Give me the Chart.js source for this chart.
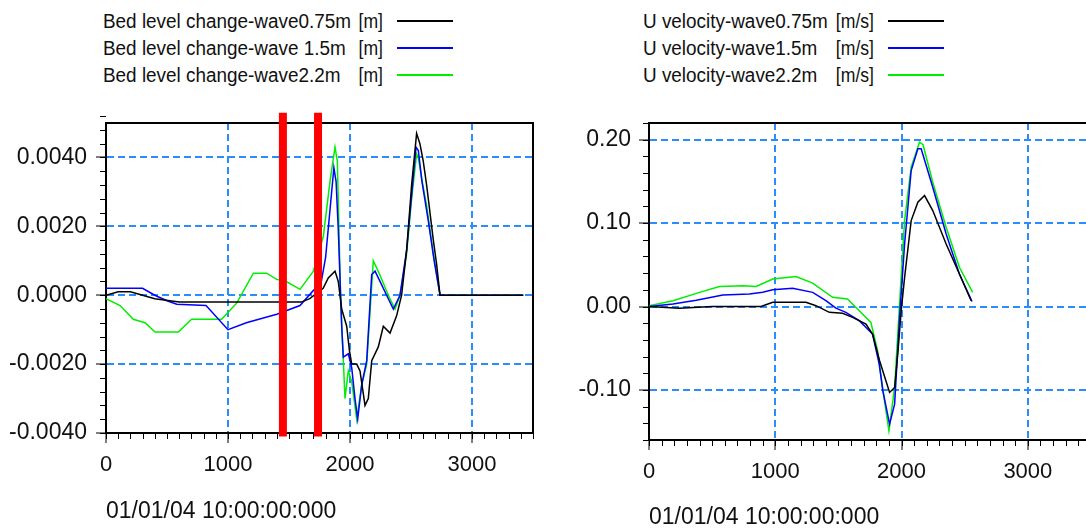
<!DOCTYPE html>
<html>
<head>
<meta charset="utf-8">
<script src="https://cdn.jsdelivr.net/npm/chart.js@4/dist/chart.umd.min.js"></script>
<style>
  html, body { margin: 0; padding: 0; background: #fff; overflow: hidden; }
  body { width: 1086px; height: 529px; position: relative; }
  .legend { position: absolute; font-family: 'Liberation Sans', Arial, sans-serif; font-size: 20px; color: #111; }
  .row { position: relative; height: 27px; white-space: pre; }
  .row span { position: absolute; top: 50%; }
  .row .name { left: 0; transform: translateY(-50%) scaleX(0.945); transform-origin: left center; }
  .row .unit { transform: translate(-100%, -50%) scaleX(0.88); transform-origin: right center; }
  .row .swatch { height: 2px; width: 56px; transform: translateY(-50%); }
  .wrap { position: absolute; top: 100px; }
</style>
</head>
<body>
<div id="legendLeft" class="legend" style="left:103px; top:7px;"></div>
<div id="legendRight" class="legend" style="left:643px; top:7px;"></div>
<div class="wrap" style="left:0; width:543px; height:429px;"><canvas id="bedChart" width="543" height="429"></canvas></div>
<div class="wrap" style="left:543px; width:552px; height:435px;"><canvas id="velChart" width="552" height="435"></canvas></div>
<script>
// legend texts
const bedNames = ['Bed level change-wave0.75m', 'Bed level change-wave 1.5m', 'Bed level change-wave2.2m'];
const bedUnit = '[m]';
const velNames = ['U velocity-wave0.75m', 'U velocity-wave1.5m', 'U velocity-wave2.2m'];
const velUnit = '[m/s]';
const seriesColors = ['#000000', '#0000ff', '#00ee00'];
const xTitle = '01/01/04 10:00:00:000';

// axis ticks
const xTicks = [0, 1000, 2000, 3000];
const xLabels = ['0', '1000', '2000', '3000'];
const bedYTicks = [-0.004, -0.002, 0, 0.002, 0.004];
const bedYLabels = ['-0.0040', '-0.0020', '0.0000', '0.0020', '0.0040'];
const velYTicks = [-0.1, 0, 0.1, 0.2];
const velYLabels = ['-0.10', '0.00', '0.10', '0.20'];

// bed level change, wave 0.75m
const bedX075 = [0, 100, 200, 300, 400, 600, 800, 1000, 1200, 1400, 1600, 1670, 1780, 1822, 1877, 1904, 1932, 1973, 1995, 2014, 2055, 2082, 2123, 2150, 2178, 2232, 2273, 2328, 2382, 2423, 2464, 2505, 2546, 2573, 2600, 2628, 2683, 2710, 2738, 3420];
const bedY075 = [0, 0.0001, 0.0001, 0, -0.0001, -0.0002, -0.0002, -0.0002, -0.0002, -0.0002, -0.0002, -0.0001, 0.0002, 0.0005, 0.0007, 0.0004, -0.0004, -0.0009, -0.0016, -0.002, -0.002, -0.0022, -0.0032, -0.003, -0.0019, -0.0015, -0.0009, -0.0011, -0.0006, 0, 0.0013, 0.0032, 0.0047, 0.0044, 0.0039, 0.0032, 0.0016, 0.0009, 0, 0];
// bed level change, wave 1.5m
const bedX15 = [0, 150, 300, 400, 500, 580, 820, 1000, 1150, 1400, 1590, 1700, 1760, 1800, 1868, 1886, 1904, 1932, 1945, 1986, 2014, 2041, 2063, 2096, 2137, 2178, 2205, 2246, 2300, 2355, 2410, 2464, 2505, 2541, 2560, 2590, 2640, 2690, 2738, 3420];
const bedY15 = [0.0002, 0.0002, 0.0002, 0, -0.00016, -0.00026, -0.0003, -0.001, -0.0008, -0.00055, -0.0003, 0.00014, 0.0003, 0.0011, 0.0037, 0.0033, 0.0019, -0.0009, -0.0018, -0.0017, -0.0021, -0.003, -0.0036, -0.0026, -0.0019, 0.0006, 0.0007, 0.0004, 0, -0.0004, 0, 0.0013, 0.0029, 0.0043, 0.0042, 0.0033, 0.0022, 0.001, 0, 0];
// bed level change, wave 2.2m
const bedX22 = [0, 115, 224, 320, 402, 593, 702, 948, 1071, 1208, 1317, 1399, 1481, 1590, 1700, 1781, 1836, 1877, 1896, 1923, 1959, 1986, 2014, 2055, 2096, 2137, 2191, 2246, 2314, 2369, 2410, 2464, 2505, 2546, 2560, 2587, 2628, 2683, 2738, 3420];
const bedY22 = [-0.0001, -0.0003, -0.0007, -0.0008, -0.00107, -0.00107, -0.0007, -0.0007, -0.00023, 0.00064, 0.00064, 0.00046, 0.00039, 0.00017, 0.0007, 0.0017, 0.0033, 0.0043, 0.0039, -0.0001, -0.003, -0.0022, -0.0025, -0.0036, -0.0026, -0.002, 0.001, 0.00058, 0, -0.0004, 0, 0.0012, 0.0028, 0.0041, 0.004, 0.0034, 0.0026, 0.0012, 0, 0];

// red marker bars on the bed level chart
const markerX = [1450, 1738];
const markerY = [-0.0041, 0.0053];

// U velocity, wave 0.75m
const velX075 = [0, 240, 500, 887, 980, 1243, 1322, 1428, 1533, 1612, 1718, 1770, 1826, 1905, 1945, 1972, 1997, 2024, 2076, 2129, 2182, 2247, 2353, 2458, 2551];
const velY075 = [0, -0.002, 0, 0, 0.005, 0.005, 0.001, -0.007, -0.008, -0.013, -0.021, -0.033, -0.065, -0.103, -0.097, -0.053, -0.005, 0.035, 0.103, 0.125, 0.133, 0.115, 0.075, 0.039, 0.007];
// U velocity, wave 1.5m
const velX15 = [0, 190, 374, 585, 795, 900, 980, 1137, 1296, 1401, 1480, 1559, 1665, 1770, 1823, 1852, 1905, 1945, 1984, 2024, 2076, 2129, 2155, 2247, 2353, 2458, 2558];
const velY15 = [0, 0.003, 0.0076, 0.0137, 0.015, 0.017, 0.02, 0.022, 0.017, 0.007, -0.002, -0.007, -0.017, -0.033, -0.069, -0.101, -0.141, -0.117, -0.013, 0.075, 0.163, 0.189, 0.189, 0.143, 0.087, 0.039, 0.006];
// U velocity, wave 2.2m
const velX22 = [0, 190, 400, 558, 743, 848, 980, 1164, 1296, 1454, 1572, 1665, 1757, 1810, 1849, 1900, 1945, 1984, 2024, 2076, 2142, 2170, 2247, 2353, 2458, 2563];
const velY22 = [0.001, 0.007, 0.017, 0.024, 0.025, 0.024, 0.033, 0.036, 0.028, 0.011, 0.009, -0.005, -0.019, -0.053, -0.097, -0.149, -0.097, 0.003, 0.103, 0.167, 0.197, 0.194, 0.149, 0.095, 0.047, 0.017];

const FONT = "'Liberation Sans', Arial, sans-serif";
const GRID_BLUE = '#2b8cff';

function toPoints(xs, ys) {
  return xs.map((x, i) => ({ x: x, y: ys[i] }));
}

// legend: name, unit right-aligned at unitRight, then a short line
function buildLegend(id, names, unit, unitRight) {
  const el = document.getElementById(id);
  names.forEach((name, i) => {
    const row = document.createElement('div');
    row.className = 'row';
    const n = document.createElement('span');
    n.className = 'name';
    n.textContent = name;
    const u = document.createElement('span');
    u.className = 'unit';
    u.style.left = unitRight + 'px';
    u.textContent = unit;
    const sw = document.createElement('span');
    sw.className = 'swatch';
    sw.style.left = (unitRight + 14) + 'px';
    sw.style.background = seriesColors[i];
    row.appendChild(n);
    row.appendChild(u);
    row.appendChild(sw);
    el.appendChild(row);
  });
}
buildLegend('legendLeft', bedNames, bedUnit, 280);
buildLegend('legendRight', velNames, velUnit, 231);

// box around the plot + the small minor ticks
const framePlugin = {
  id: 'frame',
  beforeDatasetsDraw(chart, args, opts) {
    const { ctx, chartArea: a } = chart;
    const x = chart.scales.x, y = chart.scales.y;
    ctx.save();
    ctx.strokeStyle = '#000';
    ctx.lineWidth = 1;
    const nx = Math.round((x.max - x.min) / opts.xMinor);
    for (let i = 0; i <= nx; i++) {
      const px = Math.round(x.getPixelForValue(x.min + i * opts.xMinor)) + 0.5;
      ctx.beginPath(); ctx.moveTo(px, a.bottom); ctx.lineTo(px, a.bottom + 6); ctx.stroke();
    }
    const ny = Math.round((y.max - y.min) / opts.yMinor);
    for (let i = 0; i <= ny; i++) {
      const py = Math.round(y.getPixelForValue(y.min + i * opts.yMinor)) + 0.5;
      ctx.beginPath(); ctx.moveTo(a.left, py); ctx.lineTo(a.left - 6, py); ctx.stroke();
    }
    ctx.lineWidth = 2;
    ctx.strokeRect(a.left, a.top, a.right - a.left, a.bottom - a.top);
    ctx.restore();
  }
};

function lineSet(points, i) {
  return {
    data: points,
    borderColor: seriesColors[i],
    borderWidth: 1.5,
    pointRadius: 0,
    tension: 0,
    order: 1
  };
}

function makeOptions(cfg) {
  return {
    responsive: false,
    animation: false,
    devicePixelRatio: 1,
    events: [],
    layout: { padding: { top: 23, right: cfg.padRight, left: 0, bottom: 0 } },
    plugins: {
      legend: { display: false },
      tooltip: { enabled: false },
      frame: { xMinor: 100, yMinor: cfg.yMinor }
    },
    scales: {
      x: {
        type: 'linear',
        min: 0,
        max: 3500,
        afterBuildTicks: s => { s.ticks = xTicks.map(v => ({ value: v })); },
        afterFit: s => { s.height = cfg.xHeight; },
        grid: { color: GRID_BLUE, lineWidth: 2, tickLength: 10, tickColor: '#000', tickWidth: 1, tickBorderDash: [] },
        border: { display: true, color: '#000', width: 2, dash: [7, 4] },
        ticks: {
          color: '#111',
          font: { family: FONT, size: 22 },
          padding: 9,
          maxRotation: 0,
          autoSkip: false,
          callback: v => xLabels[xTicks.indexOf(v)]
        },
        title: { display: true, text: xTitle, align: 'start', color: '#111', font: { family: FONT, size: 23 }, padding: { top: 0, bottom: 4 } }
      },
      y: {
        min: cfg.yMin,
        max: cfg.yMax,
        afterBuildTicks: s => { s.ticks = cfg.yTicks.map(v => ({ value: v })); },
        afterFit: s => { s.width = 106; },
        grid: { color: GRID_BLUE, lineWidth: 2, tickLength: 10, tickColor: '#000', tickWidth: 1, tickBorderDash: [] },
        border: { display: true, color: '#000', width: 2, dash: [7, 4] },
        ticks: {
          color: '#111',
          font: { family: FONT, size: 23 },
          padding: cfg.yPad,
          callback: v => {
            const k = cfg.yTicks.findIndex(t => Math.abs(t - v) < 1e-9);
            return k >= 0 ? cfg.yLabels[k] : '';
          }
        }
      }
    }
  };
}

const markerSets = markerX.map(mx => ({
  data: toPoints([mx, mx], markerY),
  borderColor: '#ff0000',
  borderWidth: 8,
  borderCapStyle: 'butt',
  pointRadius: 0,
  clip: false,
  order: 0
}));

new Chart(document.getElementById('bedChart'), {
  type: 'line',
  data: {
    datasets: [
      lineSet(toPoints(bedX075, bedY075), 0),
      lineSet(toPoints(bedX15, bedY15), 1),
      lineSet(toPoints(bedX22, bedY22), 2)
    ].concat(markerSets)
  },
  options: makeOptions({ padRight: 10, xHeight: 96, yMin: -0.004, yMax: 0.005, yMinor: 0.0004, yTicks: bedYTicks, yLabels: bedYLabels, yPad: 9 }),
  plugins: [framePlugin]
});

new Chart(document.getElementById('velChart'), {
  type: 'line',
  data: {
    datasets: [
      lineSet(toPoints(velX075, velY075), 0),
      lineSet(toPoints(velX15, velY15), 1),
      lineSet(toPoints(velX22, velY22), 2)
    ]
  },
  options: makeOptions({ padRight: 4, xHeight: 95, yMin: -0.16, yMax: 0.22, yMinor: 0.02, yTicks: velYTicks, yLabels: velYLabels, yPad: 8 }),
  plugins: [framePlugin]
});
</script>
</body>
</html>
